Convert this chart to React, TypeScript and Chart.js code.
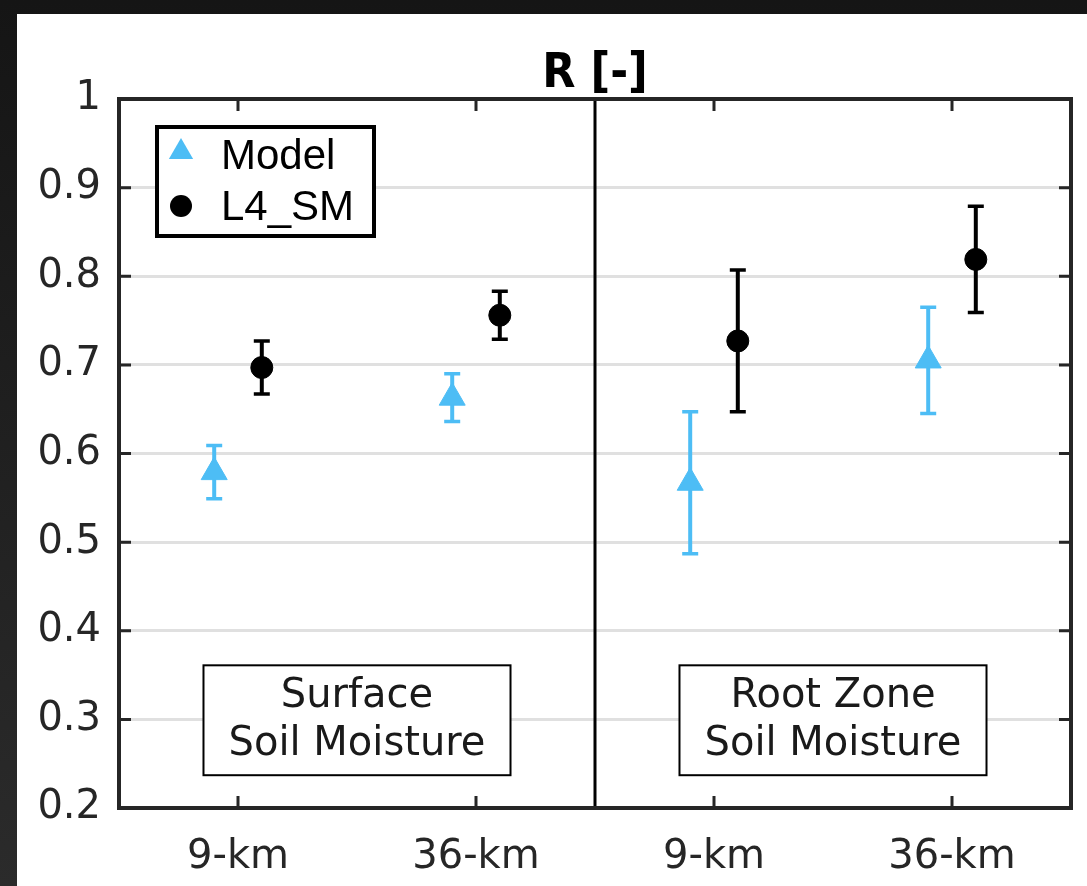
import React, { useEffect, useRef } from 'react';
import { Chart, registerables } from 'chart.js';

Chart.register(...registerables);

// ---- data ----
const categories = ['9-km', '36-km', '9-km', '36-km'];
const categoryPositions = [1, 3, 5, 7];
const modelR = [0.579, 0.663, 0.567, 0.705];
const modelErr = [0.03, 0.027, 0.08, 0.06];
const l4smR = [0.697, 0.756, 0.727, 0.819];
const l4smErr = [0.03, 0.027, 0.08, 0.06];
const yTickValues = [0.2, 0.3, 0.4, 0.5, 0.6, 0.7, 0.8, 0.9, 1];
const panelLabels = [
  ['Surface', 'Soil Moisture'],
  ['Root Zone', 'Soil Moisture'],
];
const panelCenters = [2, 6];
const seriesNames = ['Model', 'L4_SM'];
const titleText = 'R [-]';

// ---- layout / style constants ----
const W = 1087;
const H = 886;
const X_MIN = 0;
const X_MAX = 8;
const Y_MIN = 0.2;
const Y_MAX = 1;
const GROUP_OFFSET = 0.2;
const DIVIDER_X = 4;
const BOX_HALF_WIDTH = 1.29;
const BOX_Y_TOP = 0.361;
const BOX_Y_BOTTOM = 0.237;
const MODEL_COLOR = '#4dbdf5';
const L4_COLOR = '#000000';
const AXIS_COLOR = '#262626';
const FONT = '"DejaVu Sans", "Open Sans", sans-serif';

const modelPoints = modelR.map((v, i) => ({ x: categoryPositions[i] - GROUP_OFFSET, y: v }));
const l4Points = l4smR.map((v, i) => ({ x: categoryPositions[i] + GROUP_OFFSET, y: v }));

const decorPlugin = {
  id: 'decor',
  beforeDraw(chart: any) {
    const ctx = chart.ctx;
    ctx.save();
    const g = ctx.createLinearGradient(0, 0, 0, H);
    g.addColorStop(0, '#151515');
    g.addColorStop(1, '#2b2b2b');
    ctx.fillStyle = g;
    ctx.fillRect(0, 0, W, H);
    ctx.fillStyle = '#ffffff';
    ctx.fillRect(17, 14, W - 17, H - 14);
    ctx.restore();
  },
  beforeDatasetsDraw(chart: any) {
    const ctx = chart.ctx;
    const xs = chart.scales.x;
    const ys = chart.scales.y;
    const area = chart.chartArea;
    ctx.save();
    // divider
    const dx = xs.getPixelForValue(DIVIDER_X);
    ctx.strokeStyle = '#000';
    ctx.lineWidth = 3;
    ctx.beginPath();
    ctx.moveTo(dx, area.top);
    ctx.lineTo(dx, area.bottom);
    ctx.stroke();
    // annotation boxes
    panelLabels.forEach((lines, i) => {
      const x0 = xs.getPixelForValue(panelCenters[i] - BOX_HALF_WIDTH);
      const x1 = xs.getPixelForValue(panelCenters[i] + BOX_HALF_WIDTH);
      const y0 = ys.getPixelForValue(BOX_Y_TOP);
      const y1 = ys.getPixelForValue(BOX_Y_BOTTOM);
      ctx.fillStyle = '#fff';
      ctx.fillRect(x0, y0, x1 - x0, y1 - y0);
      ctx.strokeStyle = '#000';
      ctx.lineWidth = 2;
      ctx.strokeRect(x0, y0, x1 - x0, y1 - y0);
      ctx.fillStyle = '#1a1a1a';
      ctx.font = `40px ${FONT}`;
      ctx.textAlign = 'center';
      ctx.textBaseline = 'middle';
      const cx = (x0 + x1) / 2;
      const cy = (y0 + y1) / 2;
      ctx.fillText(lines[0], cx, cy - 24);
      ctx.fillText(lines[1], cx, cy + 24);
    });
    // error bars
    const drawErr = (pts: { x: number; y: number }[], errs: number[], color: string) => {
      ctx.strokeStyle = color;
      ctx.lineWidth = 4;
      pts.forEach((p, i) => {
        const px = xs.getPixelForValue(p.x);
        const yt = ys.getPixelForValue(p.y + errs[i]);
        const yb = ys.getPixelForValue(p.y - errs[i]);
        ctx.beginPath();
        ctx.moveTo(px, yt);
        ctx.lineTo(px, yb);
        ctx.stroke();
        ctx.lineWidth = 3.5;
        ctx.beginPath();
        ctx.moveTo(px - 8, yt);
        ctx.lineTo(px + 8, yt);
        ctx.moveTo(px - 8, yb);
        ctx.lineTo(px + 8, yb);
        ctx.stroke();
        ctx.lineWidth = 4;
      });
    };
    drawErr(modelPoints, modelErr, MODEL_COLOR);
    drawErr(l4Points, l4smErr, L4_COLOR);
    ctx.restore();
  },
  afterDraw(chart: any) {
    const ctx = chart.ctx;
    const xs = chart.scales.x;
    const ys = chart.scales.y;
    const a = chart.chartArea;
    ctx.save();
    // ticks inward
    ctx.strokeStyle = AXIS_COLOR;
    ctx.lineWidth = 3;
    ctx.beginPath();
    yTickValues.forEach((v) => {
      const py = ys.getPixelForValue(v);
      ctx.moveTo(a.left, py);
      ctx.lineTo(a.left + 12, py);
      ctx.moveTo(a.right, py);
      ctx.lineTo(a.right - 12, py);
    });
    categoryPositions.forEach((v) => {
      const px = xs.getPixelForValue(v);
      ctx.moveTo(px, a.bottom);
      ctx.lineTo(px, a.bottom - 12);
      ctx.moveTo(px, a.top);
      ctx.lineTo(px, a.top + 12);
    });
    ctx.stroke();
    // frame
    ctx.lineWidth = 4;
    ctx.strokeRect(a.left, a.top, a.right - a.left, a.bottom - a.top);
    // title
    ctx.fillStyle = '#000';
    try {
      (ctx as any).fontStretch = 'condensed';
    } catch (e) {
      /* ignore */
    }
    ctx.font = `bold 48px "DejaVu Sans Condensed", "Liberation Sans Narrow", "DejaVu Sans", sans-serif`;
    ctx.textAlign = 'center';
    ctx.textBaseline = 'alphabetic';
    ctx.fillText(titleText, (a.left + a.right) / 2, 87);
    try {
      (ctx as any).fontStretch = 'normal';
    } catch (e) {
      /* ignore */
    }
    // legend
    const lx = 157, ly = 127, lw = 217, lh = 109;
    ctx.fillStyle = '#fff';
    ctx.fillRect(lx, ly, lw, lh);
    ctx.strokeStyle = '#000';
    ctx.lineWidth = 4;
    ctx.strokeRect(lx, ly, lw, lh);
    // triangle symbol
    ctx.fillStyle = MODEL_COLOR;
    ctx.beginPath();
    const tx = 181, ty = 152, r = 14;
    ctx.moveTo(tx, ty - r);
    ctx.lineTo(tx + r * 0.866, ty + r * 0.5);
    ctx.lineTo(tx - r * 0.866, ty + r * 0.5);
    ctx.closePath();
    ctx.fill();
    // circle symbol
    ctx.fillStyle = L4_COLOR;
    ctx.beginPath();
    ctx.arc(181, 206, 11, 0, Math.PI * 2);
    ctx.fill();
    ctx.fillStyle = '#000';
    ctx.font = `42px "Liberation Sans", Arial, sans-serif`;
    ctx.textAlign = 'left';
    ctx.textBaseline = 'middle';
    ctx.fillText(seriesNames[0], 221, 157);
    ctx.fillText(seriesNames[1], 221, 208);
    ctx.restore();
  },
};

export default function App() {
  const ref = useRef<HTMLCanvasElement | null>(null);
  useEffect(() => {
    if (!ref.current) return;
    const chart = new Chart(ref.current, {
      type: 'scatter',
      data: {
        datasets: [
          {
            label: seriesNames[0],
            data: modelPoints,
            pointStyle: 'triangle',
            pointRadius: 15,
            pointBackgroundColor: MODEL_COLOR,
            pointBorderColor: MODEL_COLOR,
            pointBorderWidth: 1,
          },
          {
            label: seriesNames[1],
            data: l4Points,
            pointStyle: 'circle',
            pointRadius: 11,
            pointBackgroundColor: L4_COLOR,
            pointBorderColor: L4_COLOR,
            pointBorderWidth: 1,
          },
        ],
      },
      options: {
        responsive: false,
        animation: false,
        devicePixelRatio: 1,
        layout: { padding: { top: 99, right: 16, left: 0, bottom: 0 } },
        plugins: {
          legend: { display: false },
          tooltip: { enabled: false },
        },
        scales: {
          x: {
            type: 'linear',
            min: X_MIN,
            max: X_MAX,
            afterBuildTicks: (s: any) => {
              s.ticks = categoryPositions.map((v) => ({ value: v }));
            },
            afterFit: (s: any) => {
              s.height = 78;
            },
            ticks: {
              autoSkip: false,
              maxRotation: 0,
              padding: 18,
              color: AXIS_COLOR,
              font: { family: FONT, size: 40 },
              callback: (v: any) => {
                const i = categoryPositions.indexOf(Number(v));
                return i >= 0 ? categories[i] : '';
              },
            },
            grid: { display: false },
            border: { display: false },
          },
          y: {
            min: Y_MIN,
            max: Y_MAX,
            afterBuildTicks: (s: any) => {
              s.ticks = yTickValues.map((v) => ({ value: v }));
            },
            afterFit: (s: any) => {
              s.width = 119;
            },
            ticks: {
              padding: 18,
              color: AXIS_COLOR,
              font: { family: FONT, size: 40 },
              callback: (v: any) => String(Number(Number(v).toFixed(1))),
            },
            grid: {
              drawTicks: false,
              lineWidth: 3,
              color: (c: any) => {
                const v = c.tick ? c.tick.value : 0;
                return v > Y_MIN + 1e-6 && v < Y_MAX - 1e-6 ? '#e0e0e0' : 'rgba(0,0,0,0)';
              },
            },
            border: { display: false },
          },
        },
      },
      plugins: [decorPlugin],
    } as any);
    return () => chart.destroy();
  }, []);
  return (
    <div style={{ position: 'absolute', left: 0, top: 0, width: W, height: H }}>
      <canvas ref={ref} width={W} height={H} style={{ display: 'block' }} />
    </div>
  );
}
